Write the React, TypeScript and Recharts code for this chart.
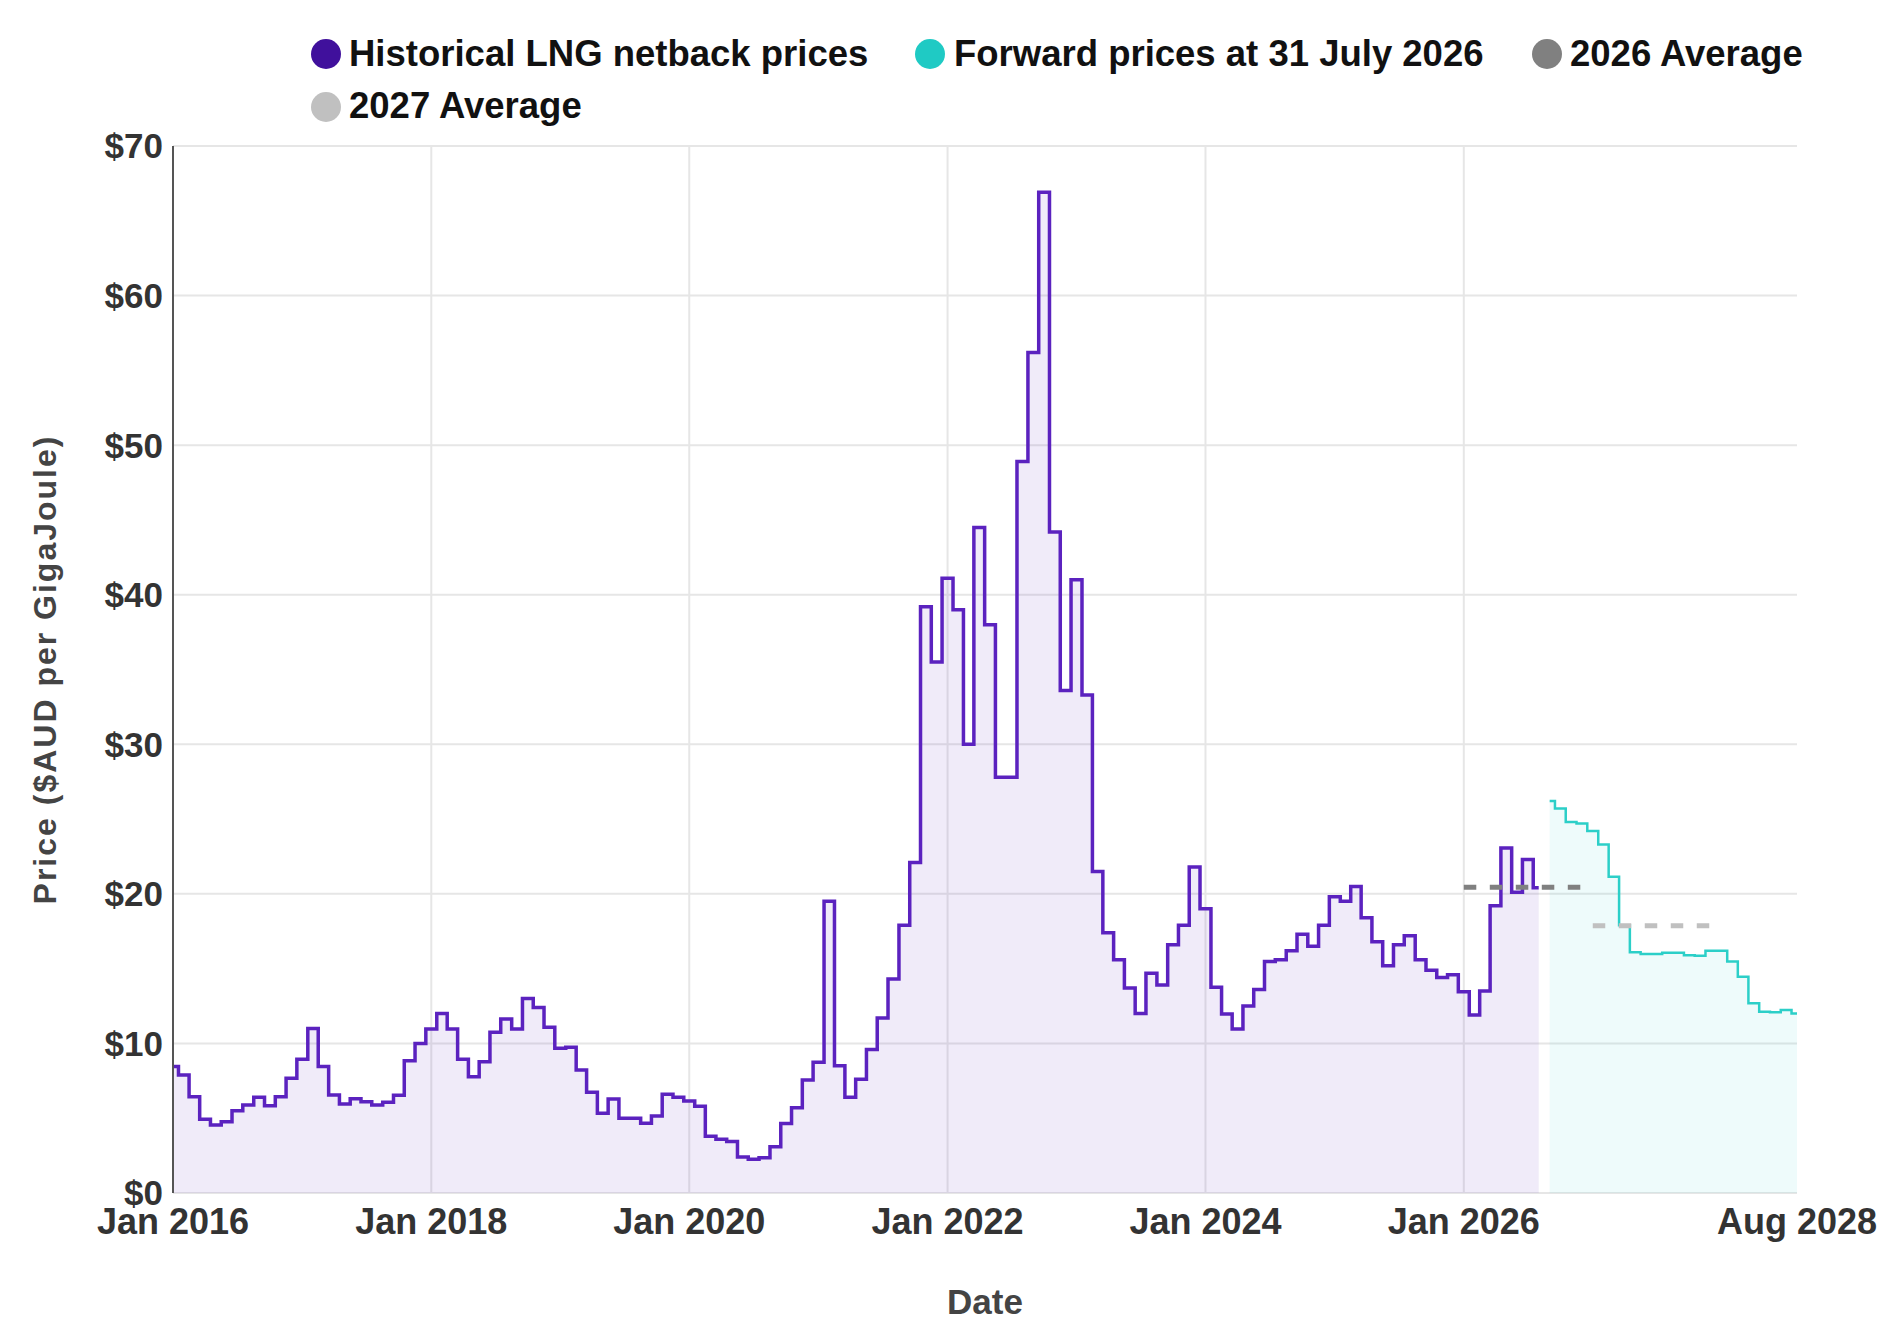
import { Area, CartesianGrid, ComposedChart, Label, Legend, Line, XAxis, YAxis } from 'recharts';

const FONT = '"Liberation Sans", Arial, Helvetica, sans-serif';

// Historical LNG netback, $AUD per GJ, one value per month from January of each year
const hist2016 = [8.45, 7.89, 6.44, 4.93, 4.55, 4.77, 5.5, 5.88, 6.4, 5.84, 6.44, 7.67];
const hist2017 = [8.94, 11.0, 8.45, 6.55, 5.95, 6.3, 6.1, 5.88, 6.06, 6.53, 8.85, 10.0];
const hist2018 = [10.96, 12.0, 10.96, 8.94, 7.78, 8.78, 10.74, 11.63, 10.96, 13.0, 12.41, 11.08];
const hist2019 = [9.67, 9.74, 8.22, 6.73, 5.33, 6.28, 4.99, 4.99, 4.66, 5.15, 6.6, 6.4];
const hist2020 = [6.15, 5.8, 3.8, 3.6, 3.45, 2.4, 2.25, 2.35, 3.1, 4.65, 5.7, 7.55];
const hist2021 = [8.75, 19.5, 8.5, 6.4, 7.6, 9.6, 11.7, 14.3, 17.9, 22.1, 39.2, 35.5];
const hist2022 = [41.1, 39.0, 30.0, 44.5, 38.0, 27.8, 27.8, 48.9, 56.2, 66.9, 44.2, 33.6];
const hist2023 = [41.0, 33.3, 21.5, 17.4, 15.6, 13.7, 12.0, 14.7, 13.9, 16.6, 17.9, 21.8];
const hist2024 = [19.0, 13.75, 11.96, 10.96, 12.5, 13.6, 15.47, 15.6, 16.2, 17.3, 16.5, 17.9];
const hist2025 = [19.8, 19.5, 20.5, 18.4, 16.8, 15.2, 16.6, 17.2, 15.6, 14.9, 14.4, 14.6];
const hist2026 = [13.46, 11.9, 13.5, 19.2, 23.06, 20.1, 22.3, 20.4]; // Jan - Aug

// Forward curve at 31 July 2026
const forward2026 = [26.2, 25.7, 24.8, 24.7]; // Sep - Dec
const forward2027 = [24.2, 23.3, 21.15, 17.9, 16.1, 15.98, 15.98, 16.07, 16.07, 15.9, 15.87, 16.2];
const forward2028 = [16.2, 15.47, 14.46, 12.68, 12.12, 12.08, 12.23, 12.0]; // Jan - Aug

const averageYears = [2026, 2027];
const averageValues = [20.45, 17.87];

const xTickYears = [2016, 2018, 2020, 2022, 2024, 2026, 2028];
const xTickMonths = [0, 0, 0, 0, 0, 0, 7];
const xTickLabels = ['Jan 2016', 'Jan 2018', 'Jan 2020', 'Jan 2022', 'Jan 2024', 'Jan 2026', 'Aug 2028'];
const yTicks = [0, 10, 20, 30, 40, 50, 60, 70];

const legendItems = [
  { label: 'Historical LNG netback prices', color: '#40109c', cx: 326, tx: 349, row: 0 },
  { label: 'Forward prices at 31 July 2026', color: '#1fcac4', cx: 930, tx: 954, row: 0 },
  { label: '2026 Average', color: '#808080', cx: 1547, tx: 1570, row: 0 },
  { label: '2027 Average', color: '#c0c0c0', cx: 326, tx: 349, row: 1 },
];

const toSeries = (year: number, firstMonth: number, values: number[]) =>
  values.map((v, i) => ({ t: Date.UTC(year, firstMonth + i, 1), price: v }));

const historicalData = [
  ...toSeries(2016, 0, hist2016),
  ...toSeries(2017, 0, hist2017),
  ...toSeries(2018, 0, hist2018),
  ...toSeries(2019, 0, hist2019),
  ...toSeries(2020, 0, hist2020),
  ...toSeries(2021, 0, hist2021),
  ...toSeries(2022, 0, hist2022),
  ...toSeries(2023, 0, hist2023),
  ...toSeries(2024, 0, hist2024),
  ...toSeries(2025, 0, hist2025),
  ...toSeries(2026, 0, hist2026),
];

const forwardData = [
  ...toSeries(2026, 8, forward2026),
  ...toSeries(2027, 0, forward2027),
  ...toSeries(2028, 0, forward2028),
];

const averageData = averageYears.map((y, i) => [
  { t: Date.UTC(y, 0, 1), avg: averageValues[i] },
  { t: Date.UTC(y, 11, 1), avg: averageValues[i] },
]);

const xTicks = xTickYears.map((y, i) => Date.UTC(y, xTickMonths[i], 1));
const gridXs = xTicks.slice(0, -1);
const xDomain = [xTicks[0], xTicks[xTicks.length - 1]];

const xTickStyle = { fontSize: 36, fontWeight: 700, fill: '#333', fontFamily: FONT };
const yTickStyle = { fontSize: 35, fontWeight: 700, fill: '#333', fontFamily: FONT };

function LegendContent() {
  return (
    <svg width={1892} height={140} style={{ display: 'block' }}>
      {legendItems.map((item) => (
        <g key={item.label}>
          <circle cx={item.cx} cy={54 + item.row * 53} r={15} fill={item.color} />
          <text
            x={item.tx}
            y={66 + item.row * 52}
            fontSize={36.5}
            fontWeight={700}
            fontFamily={FONT}
            fill="#111"
          >
            {item.label}
          </text>
        </g>
      ))}
    </svg>
  );
}

function YTitle(props: any) {
  const { x, y, height } = props.viewBox;
  const cx = x + 45;
  const cy = y + height / 2;
  return (
    <text
      x={cx}
      y={cy}
      transform={`rotate(-90 ${cx} ${cy})`}
      textAnchor="middle"
      dominantBaseline="central"
      fontSize={32}
      fontWeight={700}
      letterSpacing={2}
      fontFamily={FONT}
      fill="#444"
    >
      Price ($AUD per GigaJoule)
    </text>
  );
}

function XTitle(props: any) {
  const { x, y, width } = props.viewBox;
  return (
    <text x={x + width / 2} y={y + 121} textAnchor="middle" fontSize={35} fontWeight={700} fontFamily={FONT} fill="#444">
      Date
    </text>
  );
}

export default function App() {
  return (
    <div style={{ position: 'absolute', left: 0, top: 0, width: 1892, height: 1326, background: '#fff' }}>
      <ComposedChart width={1892} height={1326} margin={{ top: 146, right: 95, bottom: 0, left: 0 }}>
        <CartesianGrid stroke="#e6e6e6" strokeWidth={2} verticalValues={gridXs} />
        <XAxis
          type="number"
          dataKey="t"
          domain={xDomain}
          ticks={xTicks}
          interval={0}
          allowDataOverflow
          height={133}
          tickFormatter={(v: number) => xTickLabels[xTicks.indexOf(v)] ?? ''}
          tick={xTickStyle}
          tickLine={false}
          axisLine={false}
          tickSize={0}
          tickMargin={15}
        >
          <Label content={XTitle} />
        </XAxis>
        <YAxis
          type="number"
          domain={[0, 70]}
          ticks={yTicks}
          interval={0}
          width={173}
          tickFormatter={(v: number) => `$${v}`}
          tick={yTickStyle}
          tickLine={false}
          axisLine={{ stroke: '#555', strokeWidth: 2 }}
          tickSize={0}
          tickMargin={10}
        >
          <Label content={YTitle} />
        </YAxis>
        <Legend
          layout="horizontal"
          verticalAlign="middle"
          align="center"
          wrapperStyle={{ top: 0, left: 0, width: 1892, height: 140 }}
          content={LegendContent}
        />
        <Area
          data={historicalData}
          dataKey="price"
          name="Historical LNG netback prices"
          type="step"
          stroke="#5b22bf"
          strokeWidth={3.5}
          fill="#5b22bf"
          fillOpacity={0.09}
          dot={false}
          activeDot={false}
          isAnimationActive={false}
        />
        <Area
          data={forwardData}
          dataKey="price"
          name="Forward prices at 31 July 2026"
          type="step"
          stroke="#2ccfc8"
          strokeWidth={2.5}
          fill="#2ccfc8"
          fillOpacity={0.08}
          dot={false}
          activeDot={false}
          isAnimationActive={false}
        />
        <Line
          data={averageData[0]}
          dataKey="avg"
          name="2026 Average"
          stroke="#808080"
          strokeWidth={5}
          strokeDasharray="12.5 13.5"
          dot={false}
          activeDot={false}
          isAnimationActive={false}
        />
        <Line
          data={averageData[1]}
          dataKey="avg"
          name="2027 Average"
          stroke="#c0c0c0"
          strokeWidth={5}
          strokeDasharray="12.5 13.5"
          dot={false}
          activeDot={false}
          isAnimationActive={false}
        />
      </ComposedChart>
    </div>
  );
}
